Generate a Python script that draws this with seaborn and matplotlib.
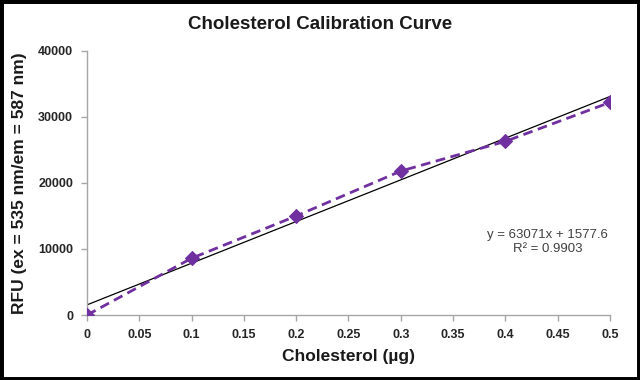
import numpy as np
import pandas as pd
import matplotlib
matplotlib.use('Agg')
import matplotlib.pyplot as plt
import seaborn as sns
from matplotlib.patches import Rectangle

# 数据
cholesterol_ug = [0.0, 0.1, 0.2, 0.3, 0.4, 0.5]
rfu_values = [0, 8600, 15000, 21800, 26300, 32200]
x_ticks = [0, 0.05, 0.1, 0.15, 0.2, 0.25, 0.3, 0.35, 0.4, 0.45, 0.5]
x_tick_labels = ['0', '0.05', '0.1', '0.15', '0.2', '0.25', '0.3', '0.35', '0.4', '0.45', '0.5']
y_ticks = [0, 10000, 20000, 30000, 40000]
fit_label = 'y = 63071x + 1577.6\nR² = 0.9903'

PURPLE = '#7030a0'
AXIS_GRAY = '#a6a6a6'

sns.set_theme(style='white')
plt.rcParams['font.family'] = ['Liberation Sans', 'DejaVu Sans']

df = pd.DataFrame({'x': cholesterol_ug, 'y': rfu_values})

fig = plt.figure(figsize=(6.4, 3.8), dpi=100)
ax = fig.add_axes([0.136, 0.171, 0.817, 0.695])

# 线性趋势线
sns.regplot(data=df, x='x', y='y', ci=None, scatter=False, truncate=True,
            line_kws={'color': 'black', 'lw': 0.9}, ax=ax)
# 数据折线
sns.lineplot(data=df, x='x', y='y', color=PURPLE, lw=2, linestyle=(0, (3.5, 2)),
             marker='D', markersize=7.5, markeredgecolor=PURPLE, ax=ax, zorder=3)

ax.set_xlim(0, 0.5)
ax.set_ylim(0, 40000)
ax.set_xticks(x_ticks)
ax.set_xticklabels(x_tick_labels)
ax.set_yticks(y_ticks)
ax.tick_params(axis='both', which='both', direction='out', length=4, width=1,
               color=AXIS_GRAY, labelsize=9, labelcolor='#262626', pad=6,
               bottom=True, left=True)
for lbl in ax.get_xticklabels() + ax.get_yticklabels():
    lbl.set_fontweight('bold')

sns.despine(ax=ax)
for side in ['left', 'bottom']:
    ax.spines[side].set_color(AXIS_GRAY)
    ax.spines[side].set_linewidth(1)

ax.set_xlabel('Cholesterol (µg)', fontsize=12.5, fontweight='bold', color='#1a1a1a', labelpad=6)
ax.set_ylabel('RFU (ex = 535 nm/em = 587 nm)', fontsize=12.5, fontweight='bold', color='#1a1a1a', labelpad=8)
fig.text(0.5, 0.935, 'Cholesterol Calibration Curve', ha='center', va='center',
         fontsize=13.5, fontweight='bold', color='#1a1a1a')

ax.text(0.881, 0.277, fit_label, transform=ax.transAxes, ha='center', va='center',
        fontsize=9.5, color='#404040', linespacing=1.15)

# 外框
fig.patches.append(Rectangle((0, 0), 1, 1, transform=fig.transFigure, fill=False,
                             edgecolor='black', linewidth=5, zorder=10))

fig.savefig('out.png', dpi=100)
